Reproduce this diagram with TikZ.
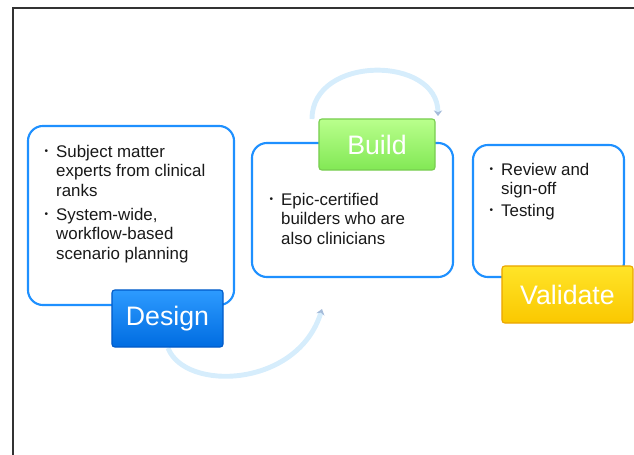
\documentclass[tikz,border=0pt]{standalone}
\usepackage{fontspec}
\setmainfont{Liberation Sans}
\usepackage{graphicx}
\usetikzlibrary{arrows.meta,shadings}

\definecolor{framegray}{RGB}{50,50,50}
\definecolor{boxblue}{RGB}{30,144,255}
\definecolor{arcblue}{RGB}{214,237,252}
\definecolor{arctip}{RGB}{165,188,218}
\definecolor{textgray}{RGB}{25,25,25}
\definecolor{designtop}{RGB}{45,155,255}
\definecolor{designbot}{RGB}{0,108,225}
\definecolor{designedge}{RGB}{0,90,200}
\definecolor{buildtop}{RGB}{185,255,140}
\definecolor{buildbot}{RGB}{130,232,85}
\definecolor{buildedge}{RGB}{120,205,80}
\definecolor{validtop}{RGB}{255,228,40}
\definecolor{validbot}{RGB}{250,200,0}
\definecolor{validedge}{RGB}{235,165,0}

% small bullet
\newcommand{\bul}{\hspace{1pt}\raisebox{2.2pt}{\scalebox{0.6}{\textbullet}}}

\tikzset{
  panel/.style={draw=boxblue, line width=1.5pt, rounded corners=0.375cm, fill=white},
  paneltext/.style={anchor=north west, inner sep=0pt, text=textgray,
    font=\fontsize{12}{13.8}\selectfont},
  stagelabel/.style={rounded corners=2pt, line width=0.8pt, text=white,
    font=\fontsize{19}{22}\selectfont},
  cyclearc/.style={arcblue, line width=3.5pt,
    -{Stealth[length=4pt,width=6pt,color=arctip]}},
}

\begin{document}
\begin{tikzpicture}[x=0.025cm,y=-0.025cm]
    \useasboundingbox (0,0) rectangle (634,455);
    \draw[framegray, line width=1.4pt] (634,8) -- (13,8) -- (13,455);

    % arcs between the stages
    \coordinate (buildarcstart) at (312,119);
    \coordinate (buildarcend) at (438,116);
    \draw[cyclearc] (buildarcstart) .. controls (312,55) and (438,55) .. (buildarcend);
    \coordinate (designarcstart) at (168,348);
    \coordinate (designarcend) at (322,309);
    \draw[cyclearc] (designarcstart) .. controls (185,392) and (298,388) .. (designarcend);

    \node[panel, minimum width=5.15cm, minimum height=4.475cm] (designbox) at (131,215.5) {};
    \node[panel, minimum width=5.025cm, minimum height=3.35cm] (buildbox) at (352.5,210) {};
    \node[panel, minimum width=3.775cm, minimum height=3.3cm] (validbox) at (548.5,211) {};

    \node[paneltext] (designtext) at (43,143.5) {%
      \begin{tabular}{@{}p{9.2pt}@{}l@{}}
        \bul & Subject matter\\
             & experts from clinical\\
             & ranks\\[3.5pt]
        \bul & System-wide,\\
             & workflow-based\\
             & scenario planning
      \end{tabular}};
    \node[paneltext] (buildtext) at (268,191.5) {%
      \begin{tabular}{@{}p{9.2pt}@{}l@{}}
        \bul & Epic-certified\\
             & builders who are\\
             & also clinicians
      \end{tabular}};
    \node[paneltext] (validtext) at (488,161.5) {%
      \begin{tabular}{@{}p{9.2pt}@{}l@{}}
        \bul & Review and\\
             & sign-off\\[2pt]
        \bul & Testing
      \end{tabular}};

    \node[stagelabel, draw=designedge, top color=designtop, bottom color=designbot,
      minimum width=2.775cm, minimum height=1.425cm] (design) at (167.5,318.5) {Design};
    \node[stagelabel, draw=buildedge, top color=buildtop, bottom color=buildbot,
      minimum width=2.9cm, minimum height=1.275cm] (build) at (377,144.5) {Build};
    \node[stagelabel, draw=validedge, top color=validtop, bottom color=validbot,
      minimum width=3.275cm, minimum height=1.425cm] (validate) at (567.5,294.5) {Validate};
\end{tikzpicture}
\end{document}
